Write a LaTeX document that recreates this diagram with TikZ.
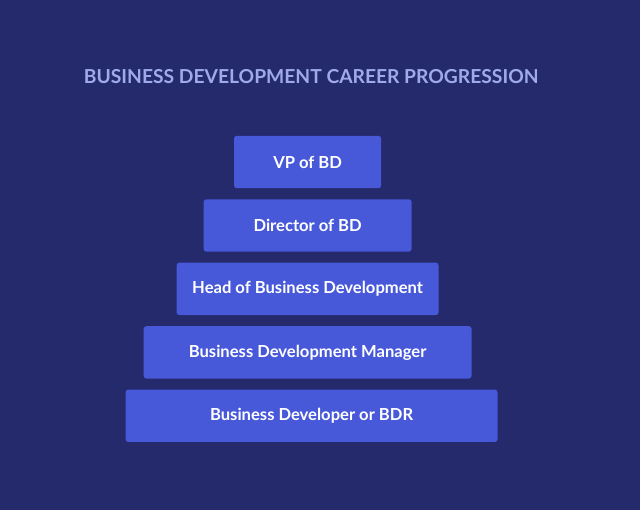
\documentclass[tikz,border=0pt]{standalone}
\usepackage{fontspec}
\setmainfont{Lato}
\usepackage{tikz}
\usetikzlibrary{positioning}

\definecolor{bgnavy}{RGB}{36,42,108}
\definecolor{stepblue}{RGB}{71,88,217}
\definecolor{titleblue}{RGB}{160,170,234}

\begin{document}
\begin{tikzpicture}[
    node distance=0.262cm,
    rung/.style={rectangle, fill=stepblue, rounded corners=0.07cm, minimum height=1.31cm, text=white, font=\bfseries\fontsize{11.8}{14}\selectfont},
    heading/.style={text=titleblue, font=\bfseries\fontsize{13.7}{16}\selectfont}
]
% 背景
\fill[bgnavy] (0,0) rectangle (16,-12.75);
\useasboundingbox (0,0) rectangle (16,-12.75);

% 标题
\node[heading] (title) at (7.78,-1.92) {BUSINESS DEVELOPMENT CAREER PROGRESSION};

% 阶梯
\node[rung, minimum width=3.68cm] (vp) at (7.69,-4.05) {VP of BD};
\node[rung, minimum width=5.2cm, below=of vp] (director) {Director of BD};
\node[rung, minimum width=6.55cm, below=of director] (head) {Head of Business Development};
\node[rung, minimum width=8.2cm, below=of head] (manager) {Business Development Manager};
\node[rung, minimum width=9.3cm, below=of manager, xshift=0.1cm] (bdr) {Business Developer or BDR};
\end{tikzpicture}
\end{document}
